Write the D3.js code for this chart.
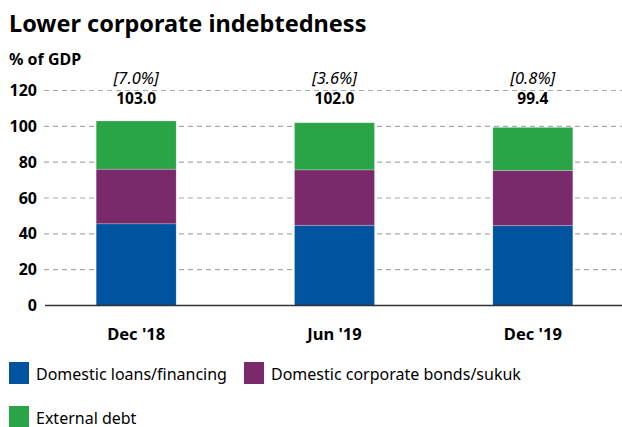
<!DOCTYPE html>
<meta charset="utf-8">
<body style="margin:0;background:white">
  <div id="content"></div>
</body>
<script src="https://cdn.jsdelivr.net/npm/d3@7"></script>
<script>
// chart values
var periods = ["Dec '18", "Jun '19", "Dec '19"];
var loans = [45.6, 44.8, 44.6];
var bonds = [30.5, 30.9, 30.8];
var external = [26.9, 26.3, 24.0];
var totals = ["103.0", "102.0", "99.4"];
var growth = ["[7.0%]", "[3.6%]", "[0.8%]"];
var seriesNames = ["Domestic loans/financing", "Domestic corporate bonds/sukuk", "External debt"];
var yTicks = [0, 20, 40, 60, 80, 100, 120];

var colors = ["#00539f", "#7a2a6b", "#29a447"];
var font = "'Noto Sans', sans-serif";

var chart = { width: 622, height: 427, left: 44, right: 622, top: 90.5, bottom: 305.5 };
var barWidth = 80;

var rows = periods.map(function (p, i) {
  return { period: p, loans: loans[i], bonds: bonds[i], external: external[i] };
});
var stack = d3.stack().keys(["loans", "bonds", "external"])(rows);

var svg = d3.select('#content').append('svg')
  .attr('width', chart.width).attr('height', chart.height)
  .style('font-family', font);

var x = d3.scalePoint().domain(periods).range([37, 632]).padding(0.5);
var y = d3.scaleLinear().domain([0, 120]).range([chart.bottom, chart.top]);

// title
svg.append('text').attr('x', 9).attr('y', 32)
  .attr('font-size', 23.5).attr('font-weight', 'bold').text('Lower corporate indebtedness');
svg.append('text').attr('x', 9).attr('y', 65)
  .attr('font-size', 16).attr('font-weight', 'bold').text('% of GDP');

// grid lines
svg.append('g').selectAll('line').data(yTicks.filter(function (d) { return d > 0; }))
  .enter().append('line')
  .attr('x1', chart.left).attr('x2', chart.right)
  .attr('y1', function (d) { return y(d); }).attr('y2', function (d) { return y(d); })
  .attr('stroke', '#aaa').attr('stroke-width', 1.2).attr('stroke-dasharray', '5,4');

// y tick labels
svg.append('g').selectAll('text').data(yTicks).enter().append('text')
  .attr('x', 37).attr('y', function (d) { return y(d) + 5.5; })
  .attr('text-anchor', 'end').attr('font-size', 16).attr('font-weight', 'bold')
  .text(function (d) { return d; });

// bars
svg.append('g').selectAll('g').data(stack).enter().append('g')
  .attr('fill', function (d, i) { return colors[i]; })
  .selectAll('rect').data(function (d) { return d; }).enter().append('rect')
  .attr('x', function (d) { return x(d.data.period) - barWidth / 2; })
  .attr('width', barWidth)
  .attr('y', function (d) { return y(d[1]); })
  .attr('height', function (d) { return y(d[0]) - y(d[1]); })
  .attr('stroke', 'rgba(255,255,255,0.4)').attr('stroke-width', 0.6);

// baseline
svg.append('line').attr('x1', chart.left + 1).attr('x2', chart.right)
  .attr('y1', chart.bottom).attr('y2', chart.bottom)
  .attr('stroke', '#333').attr('stroke-width', 1.3);

// x labels
svg.append('g').selectAll('text').data(periods).enter().append('text')
  .attr('x', function (d) { return x(d); }).attr('y', 340)
  .attr('text-anchor', 'middle').attr('font-size', 16.5).attr('font-weight', 'bold')
  .text(function (d) { return d; });

// annotations
svg.append('g').selectAll('text').data(growth).enter().append('text')
  .attr('x', function (d, i) { return x(periods[i]); }).attr('y', 84)
  .attr('text-anchor', 'middle').attr('font-size', 16.5).attr('font-style', 'italic')
  .text(function (d) { return d; });
svg.append('g').selectAll('text').data(totals).enter().append('text')
  .attr('x', function (d, i) { return x(periods[i]); }).attr('y', 104)
  .attr('text-anchor', 'middle').attr('font-size', 15.5).attr('font-weight', 'bold')
  .text(function (d) { return d; });

// legend
var legendPos = [[9, 362], [244, 362], [9, 406]];
var legend = svg.append('g').selectAll('g').data(seriesNames).enter().append('g')
  .attr('transform', function (d, i) { return 'translate(' + legendPos[i] + ')'; });
legend.append('rect').attr('width', 20).attr('height', 22)
  .attr('fill', function (d, i) { return colors[i]; });
legend.append('text').attr('x', 27).attr('y', 17.5)
  .attr('font-size', 16).text(function (d) { return d; });
</script>
